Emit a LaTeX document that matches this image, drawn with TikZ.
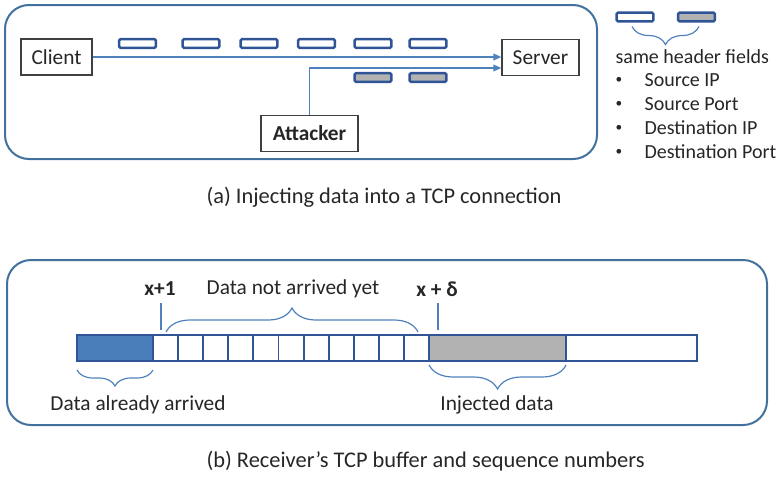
\documentclass[tikz,border=0pt]{standalone}
\usepackage{fontspec}
\setmainfont{Carlito}
\usetikzlibrary{arrows.meta, positioning, calc, decorations.pathreplacing}
\definecolor{FrameBlue}{RGB}{65,113,156}
\definecolor{PacketBlue}{RGB}{47,85,151}
\definecolor{LineBlue}{RGB}{79,129,189}
\definecolor{ArrivedBlue}{RGB}{74,126,187}
\definecolor{InjectedGray}{RGB}{178,178,178}
\definecolor{TextGray}{RGB}{38,38,38}

\begin{document}
\begin{tikzpicture}[
    x=0.75pt, y=-0.75pt,
    frame/.style={draw=FrameBlue, line width=1.5pt, rounded corners=18pt},
    host/.style={draw=black!75, line width=0.9pt, inner sep=0pt, minimum height=27pt,
        text=TextGray, font=\fontsize{16}{18}\selectfont},
    pkt/.style={draw=PacketBlue, line width=1.8pt, rounded corners=1pt, fill=white,
        minimum width=27.5pt, minimum height=6.5pt, inner sep=0pt},
    seg/.style={draw=PacketBlue, line width=1.4pt, fill=white, inner sep=0pt,
        outer sep=0pt, minimum height=19.5pt},
    flow/.style={-{Triangle[length=6pt, width=5pt]}, line width=1.1pt, LineBlue},
    tick/.style={line width=0.9pt, LineBlue},
    braceup/.style={draw=LineBlue, line width=0.9pt, decorate,
        decoration={brace, amplitude=#1}},
    bracedown/.style={draw=LineBlue, line width=0.9pt, decorate,
        decoration={brace, mirror, amplitude=#1}},
    lbl/.style={text=TextGray, inner sep=1pt, font=\fontsize{16}{18}\selectfont},
    legend/.style={text=TextGray, inner sep=1pt, font=\fontsize{15}{17}\selectfont},
    dot/.style={text=TextGray, inner sep=1pt, font=\fontsize{10}{12}\selectfont},
    caption/.style={text=TextGray, inner sep=1pt, anchor=west,
        font=\fontsize{16.8}{19}\selectfont},
]
\useasboundingbox (0,0) rectangle (782,479);

% (a) connection
\draw[frame] (5,5) rectangle (597,159);
\node[host, minimum width=53.25pt] (cli) at (56.5,57) {Client};
\node[host, minimum width=57.75pt] (srv) at (540.5,57.5) {Server};
\node[host, minimum width=72.75pt, font=\fontsize{16}{18}\selectfont\bfseries] (att) at (309.5,133.5) {Attacker};

\foreach \px [count=\i] in {137.5,201,259,316.5,373,428}
    \node[pkt] (p\i) at (\px,43.5) {};
\foreach \px [count=\i] in {373,428}
    \node[pkt, fill=InjectedGray] (q\i) at (\px,77.5) {};

\draw[flow] (cli.east) -- (cli.east -| srv.west);
\draw[flow] (att.north) |- ($(srv.west)+(0,10.5)$);

% legend
\node[pkt] (lw) at (635,17) {};
\node[pkt, fill=InjectedGray] (lg) at (696.5,17) {};
\draw[bracedown=13.5pt] ($(lw.south)+(-3,4)$) -- ($(lg.south)+(2.5,4)$);
\node[legend, anchor=west] (same) at (614,57) {same header fields};
\foreach \t [count=\k] in {Source IP, Source Port, Destination IP, Destination Port} {
    \node[dot] (b\k) at (619,{56+24*\k}) {•};
    \node[legend, anchor=west] (f\k) at (643,{56+24*\k}) {\t};
}

\node[caption] (capa) at (205,197) {(a) Injecting data into a TCP connection};

% (b) receive buffer
\draw[frame] (7,260) rectangle (767,425);
\node[seg, fill=ArrivedBlue, minimum width=57pt, anchor=west] (arr) at (77,348) {};
\foreach \i in {1,...,11}
    \node[seg, minimum width=18.8pt, anchor=west] (c\i) at ({153+25.1*(\i-1)},348) {};
\node[seg, fill=InjectedGray, minimum width=102.75pt, right=0pt of c11] (inj) {};
\node[seg, minimum width=98.25pt, right=0pt of inj] (rest) {};

\draw[tick] ($(c1.north west)+(8,-5)$) -- ++(0,-27);
\draw[tick] ($(inj.north west)+(9,-5)$) -- ++(0,-27);
\node[lbl, font=\fontsize{16}{18}\selectfont\bfseries] (xone) at (160,289) {x+1};
\node[lbl, font=\fontsize{16}{18}\selectfont\bfseries] (xdelta) at (437,289) {x + δ};

\draw[braceup=18pt] ($(c1.north west)+(13,-3)$) -- ($(c11.north east)+(-11,-3)$);
\node[lbl] (notyet) at (293,289) {Data not arrived yet};

\draw[bracedown=12pt] ($(arr.south west)+(0,9)$) -- ($(arr.south east)+(0,9)$);
\node[lbl] (already) at (138,405) {Data already arrived};
\draw[bracedown=18pt] ($(inj.south west)+(0,4)$) -- ($(inj.south east)+(0,4)$);
\node[lbl] (injected) at (497,405) {Injected data};

\node[caption] (capb) at (205,461) {(b) Receiver's TCP buffer and sequence numbers};

\end{tikzpicture}
\end{document}
